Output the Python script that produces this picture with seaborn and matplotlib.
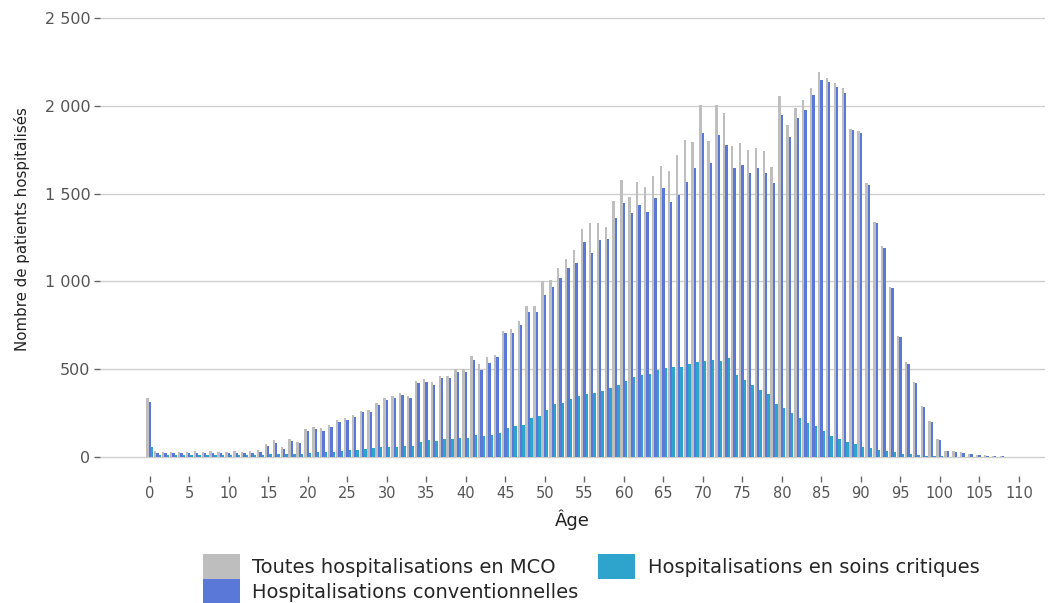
import numpy as np
import pandas as pd
import matplotlib
matplotlib.use("Agg")
import matplotlib.pyplot as plt
from matplotlib.patches import Patch
from matplotlib.ticker import FuncFormatter
import seaborn as sns

# Ages 0 to 110
ages = list(range(0, 111))

# Toutes hospitalisations en MCO
total_mco = [
    335, 35, 30, 30, 30, 30, 32, 30, 35, 30, 30, 35, 30, 35, 40,
    75, 95, 55, 100, 85, 160, 170, 165, 180, 210, 220, 240, 265, 270, 305,
    335, 345, 365, 345, 435, 445, 425, 460, 460, 500, 500, 575, 530, 570, 580,
    720, 730, 775, 860, 860, 1000, 1010, 1075, 1130, 1180, 1300, 1330, 1330, 1310, 1460,
    1575, 1480, 1565, 1540, 1600, 1660, 1630, 1720, 1805, 1795, 2005, 1800, 2005, 1960, 1770,
    1790, 1750, 1760, 1740, 1650, 2055, 1890, 1990, 2035, 2100, 2195, 2160, 2130, 2100, 1870,
    1855, 1560, 1340, 1200, 970, 690, 540, 430, 290, 205, 100, 35, 32, 26, 19,
    13, 9, 6, 4, 2, 1,
]

# Hospitalisations conventionnelles
conventional = [
    315, 25, 22, 22, 22, 22, 24, 22, 25, 22, 22, 25, 22, 25, 30,
    65, 82, 45, 92, 78, 150, 160, 150, 170, 200, 210, 230, 255, 258, 295,
    325, 335, 352, 334, 420, 430, 410, 448, 448, 486, 486, 552, 495, 533, 571,
    704, 704, 752, 827, 827, 922, 970, 1018, 1074, 1103, 1226, 1160, 1236, 1240, 1359,
    1445, 1388, 1435, 1397, 1473, 1530, 1454, 1492, 1568, 1644, 1843, 1672, 1834, 1777, 1646,
    1665, 1617, 1646, 1617, 1560, 1948, 1822, 1930, 1976, 2061, 2147, 2137, 2109, 2072, 1862,
    1845, 1549, 1332, 1190, 962, 684, 530, 423, 285, 200, 97, 34, 30, 25, 18,
    12, 8, 6, 4, 2, 1,
]

# Hospitalisations en soins critiques
critical = [
    55, 12, 10, 10, 10, 10, 10, 10, 10, 10, 10, 12, 10, 12, 12,
    15, 18, 15, 20, 20, 25, 28, 28, 30, 35, 38, 42, 48, 50, 55,
    58, 60, 62, 65, 85, 95, 92, 100, 105, 108, 110, 125, 120, 128, 135,
    165, 175, 185, 220, 232, 270, 300, 310, 330, 345, 360, 365, 375, 395, 410,
    435, 455, 470, 475, 495, 505, 510, 515, 530, 540, 545, 552, 548, 565, 470,
    440, 410, 380, 360, 300, 280, 250, 220, 195, 175, 150, 120, 100, 85, 72,
    60, 50, 42, 33, 26, 20, 15, 12, 8, 6, 4, 3, 2, 2, 1,
    1, 0, 0, 0, 0, 0,
]

series_labels = [
    "Toutes hospitalisations en MCO",
    "Hospitalisations conventionnelles",
    "Hospitalisations en soins critiques",
]
series_colors = ["#BEBEBE", "#5A78D8", "#2EA3CB"]
x_ticks = list(range(0, 111, 5))

df = pd.concat(
    [
        pd.DataFrame({"age": ages, "value": vals, "serie": lab})
        for vals, lab in zip([total_mco, conventional, critical], series_labels)
    ],
    ignore_index=True,
)

sns.set_theme(style="white")
plt.rcParams["font.family"] = ["DejaVu Sans"]

fig = plt.figure(figsize=(10.56, 6.03), dpi=100)
ax = fig.add_axes([0.0947, 0.2106, 0.8949, 0.7712])

sns.barplot(
    data=df, x="age", y="value", hue="serie",
    hue_order=series_labels, palette=series_colors,
    order=ages, dodge=True, width=0.9, saturation=1.0,
    errorbar=None, legend=False, ax=ax, linewidth=0,
)

ax.set_xlim(-6.3, 113.3)
ax.set_ylim(-108, 2540)
ax.set_yticks([0, 500, 1000, 1500, 2000, 2500])
ax.yaxis.set_major_formatter(FuncFormatter(lambda v, p: f"{int(v):,}".replace(",", " ")))
ax.set_xticks(x_ticks)
ax.set_xticklabels([str(t) for t in x_ticks])

ax.grid(axis="y", color="#CFCFCF", linewidth=1.0)
ax.grid(axis="x", visible=False)
ax.set_axisbelow(True)
for s in ax.spines.values():
    s.set_visible(False)

ax.tick_params(axis="both", which="major", length=4, width=1, color="#666666",
               labelsize=10.5, labelcolor="#555555", pad=3)
ax.tick_params(axis="y", labelsize=11.5)
ax.tick_params(axis="x", bottom=True)
ax.tick_params(axis="y", left=True)

ax.set_xlabel("Âge", fontsize=13, color="#222222", labelpad=6)
ax.set_ylabel("Nombre de patients hospitalisés", fontsize=10.8, color="#222222")
ax.yaxis.set_label_coords(-0.0745, 0.53)

handles = [Patch(facecolor=c, edgecolor="none") for c in series_colors]
fig.legend(
    handles, series_labels, ncol=2, loc="upper left",
    bbox_to_anchor=(0.192, 0.081), frameon=False, fontsize=14,
    handlelength=1.9, handleheight=1.6, handletextpad=0.65,
    columnspacing=1.0, labelspacing=0.0, borderaxespad=0, borderpad=0,
)

fig.savefig("out.png", dpi=100)
